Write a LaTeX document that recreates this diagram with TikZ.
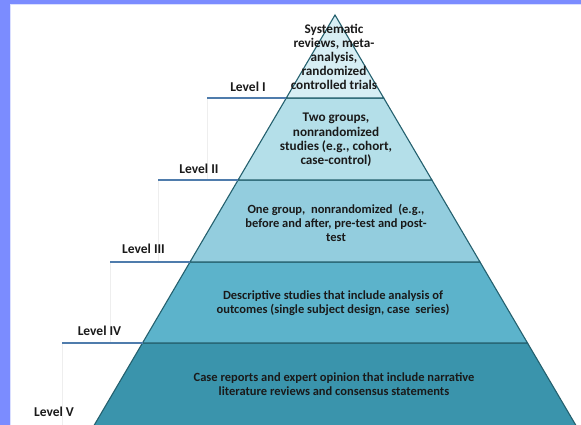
\documentclass[tikz,border=0pt]{standalone}
\usepackage{fontspec}
\setmainfont{Carlito}
\usetikzlibrary{calc}
\definecolor{frame}{HTML}{7B8CFF}
\definecolor{framein}{HTML}{DADFFF}
\definecolor{lvA}{HTML}{D7EEF4}
\definecolor{lvB}{HTML}{B4DFE9}
\definecolor{lvC}{HTML}{93CDDE}
\definecolor{lvD}{HTML}{5CB3CB}
\definecolor{lvE}{HTML}{3A94AC}
\definecolor{edge}{HTML}{24606E}
\definecolor{lvline}{HTML}{4F7CAC}
\definecolor{stair}{HTML}{EEEEEE}
\definecolor{ink}{HTML}{1A1A1A}
\tikzset{
  band/.style={draw=edge, line width=1.1pt, line join=miter},
  lvtick/.style={draw=lvline, line width=1.5pt},
  stairline/.style={draw=stair, line width=0.6pt},
  lvlabel/.style={font=\fontsize{13.5}{15}\selectfont\bfseries, text=ink, inner sep=0pt},
  bandtext/.style={font=\fontsize{12.5}{14}\selectfont\bfseries, text=ink, align=center, inner sep=0pt},
  bigtext/.style={bandtext, font=\fontsize{13.2}{14.2}\selectfont\bfseries}
}
\begin{document}
\begin{tikzpicture}[x=1pt,y=-1pt]
\useasboundingbox (0,0) rectangle (581,425);
% frame
\fill[white] (0,0) rectangle (581,425);
\fill[frame] (0,0) rectangle (581,4);
\fill[frame] (0,0) rectangle (10,425);
\fill[framein] (10,4) rectangle (581,5);
\fill[framein] (10,4) rectangle (11,425);
% stair lines
\draw[stairline] (207,98) -- (207,180);
\draw[stairline] (158,180) -- (158,262);
\draw[stairline] (110,262) -- (110,343);
\draw[stairline] (62,343) -- (62,425);
% pyramid bands
\begin{scope}
\clip (11,5) rectangle (581,425);
\coordinate (apex) at (335,15);
\coordinate (l1) at (286.3,98);  \coordinate (r1) at (383.7,98);
\coordinate (l2) at (238.1,180); \coordinate (r2) at (431.9,180);
\coordinate (l3) at (190,262);   \coordinate (r3) at (480,262);
\coordinate (l4) at (142.5,343); \coordinate (r4) at (527.5,343);
\coordinate (l5) at (89.6,433);  \coordinate (r5) at (580.4,433);
\path[band, fill=lvE] (l4) -- (r4) -- (r5) -- (l5) -- cycle;
\path[band, fill=lvD] (l3) -- (r3) -- (r4) -- (l4) -- cycle;
\path[band, fill=lvC] (l2) -- (r2) -- (r3) -- (l3) -- cycle;
\path[band, fill=lvB] (l1) -- (r1) -- (r2) -- (l2) -- cycle;
\path[band, fill=lvA] (apex) -- (r1) -- (l1) -- cycle;
\end{scope}
% level ticks
\coordinate (t1) at (207,98);
\coordinate (t2) at (158,180);
\coordinate (t3) at (110,262);
\coordinate (t4) at (62,343);
\draw[lvtick] (t1) -- (l1);
\draw[lvtick] (t2) -- (l2);
\draw[lvtick] (t3) -- (l3);
\draw[lvtick] (t4) -- (l4);
% level labels
\node[lvlabel] (L1) at (248,87) {Level I};
\node[lvlabel] (L2) at (199,169) {Level II};
\node[lvlabel] (L3) at (143.5,249) {Level III};
\node[lvlabel] (L4) at (99.5,331) {Level IV};
\node[lvlabel] (L5) at (54,412) {Level V};
% band texts
\node[bigtext] (T1) at (334,57) {Systematic\\reviews, meta-\\analysis,\\randomized\\controlled trials};
\node[bigtext] (T2) at (336,140) {Two groups,\\nonrandomized\\studies (e.g., cohort,\\case-control)};
\node[bandtext] (T3) at (336,222.5) {One group, \ nonrandomized \ (e.g.,\\before and after, pre-test and post-\\test};
\node[bandtext] (T4) at (333,303) {Descriptive studies that include analysis of\\outcomes (single subject design, case \ series)};
\node[bandtext] (T5) at (334,384.5) {Case reports and expert opinion that include narrative\\literature reviews and consensus statements};
\end{tikzpicture}
\end{document}
